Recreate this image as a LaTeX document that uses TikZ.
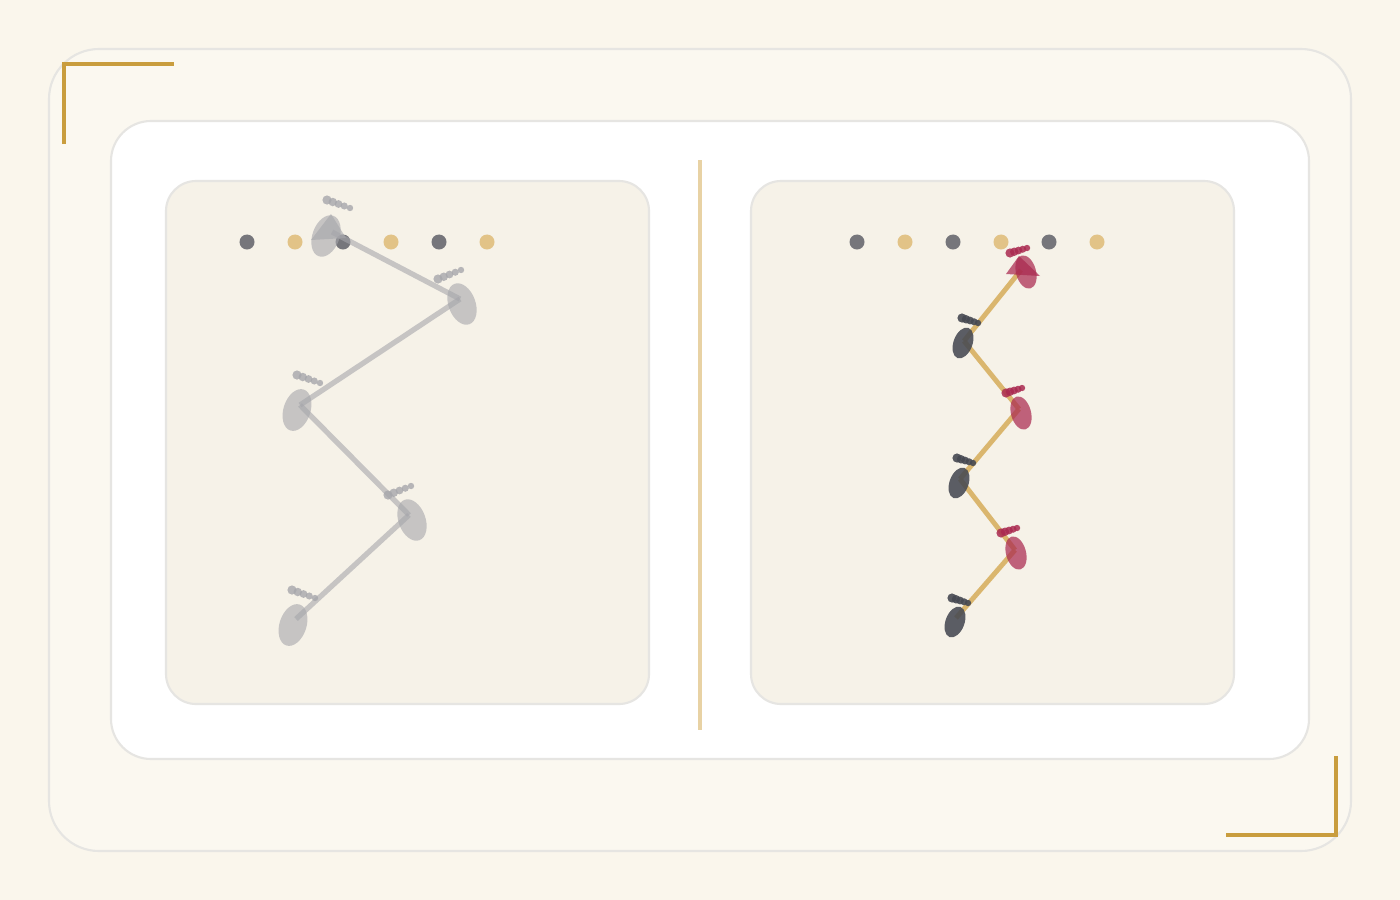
\documentclass[tikz,border=0pt]{standalone}
\usepackage{tikz}
\usetikzlibrary{shapes.geometric,calc}

\definecolor{pagebg}{HTML}{FAF6EC}
\definecolor{framebg}{HTML}{FBF8F0}
\definecolor{framerule}{HTML}{E6E5E2}
\definecolor{panelbg}{HTML}{F6F2E8}
\definecolor{gold}{HTML}{C99D3E}
\definecolor{divider}{HTML}{E8D2A4}
\definecolor{sand}{HTML}{E2C387}
\definecolor{slate}{HTML}{76767B}
\definecolor{ghost}{HTML}{A6A6AB}
\definecolor{wine}{HTML}{AA2A50}
\definecolor{ink}{HTML}{464952}
\definecolor{rope}{HTML}{D8B061}

% a row of five beads, shrinking from #1 towards #2
\newcommand{\beadrow}[3]{%
  \foreach \k in {0,...,4}
    \fill[#3] ($(#1)!\k/4!(#2)$) circle[radius={4.6-0.35*\k}];
}

\begin{document}
\begin{tikzpicture}[x=0.01cm,y=-0.01cm]
  \tikzstyle{token}=[circle,inner sep=0pt,minimum size=0.15cm]
  \tikzstyle{panel}=[fill=panelbg,draw=framerule,line width=0.6pt,rounded corners=0.3cm]
  \tikzstyle{pod}=[ellipse,inner sep=0pt,draw=none]
  \tikzstyle{ghostpod}=[pod,fill=ghost,fill opacity=0.6,minimum width=0.27cm,minimum height=0.43cm]
  \tikzstyle{winepod}=[pod,fill=wine,fill opacity=0.72,minimum width=0.2cm,minimum height=0.34cm]
  \tikzstyle{inkpod}=[pod,fill=ink,fill opacity=0.88,minimum width=0.19cm,minimum height=0.32cm]
  \tikzstyle{ghostlink}=[draw=ghost,draw opacity=0.6,line width=1.5pt]
  \tikzstyle{ropelink}=[draw=rope,draw opacity=0.9,line width=1.4pt]

  %--- page and frames ---
  \fill[pagebg] (0,0) rectangle (1400,900);
  \useasboundingbox (0,0) rectangle (1400,900);
  \draw[fill=framebg,draw=framerule,line width=0.6pt,rounded corners=0.5cm] (49,49) rectangle (1351,851);
  \draw[fill=white,draw=framerule,line width=0.6pt,rounded corners=0.4cm] (111,121) rectangle (1309,759);
  \draw[panel] (166,181) rectangle (649,704);
  \draw[panel] (751,181) rectangle (1234,704);
  \draw[divider,line width=1pt] (700,160) -- (700,730);

  %--- corner marks ---
  \draw[gold,line width=0.9pt] (64,144) -- (64,64) -- (174,64);
  \draw[gold,line width=0.9pt] (1336,756) -- (1336,835) -- (1226,835);

  %--- top rows of tokens ---
  \foreach \x/\c [count=\n] in {247/slate,295/sand,343/slate,391/sand,439/slate,487/sand}
    \node[token,fill=\c] (lt\n) at (\x,242) {};
  \foreach \x/\c [count=\n] in {857/slate,905/sand,953/slate,1001/sand,1049/slate,1097/sand}
    \node[token,fill=\c] (rt\n) at (\x,242) {};

  %--- left chain (faded) ---
  \coordinate (l1) at (332,232);
  \coordinate (l2) at (460,299);
  \coordinate (l3) at (300,405);
  \coordinate (l4) at (409,515);
  \coordinate (l5) at (296,619);
  \path[ghostlink] (l1) edge (l2) (l2) edge (l3) (l3) edge (l4) (l4) edge (l5);

  \fill[ghost,fill opacity=0.6] (311,240) -- (331,214) -- (346,238) -- cycle;
  \node[ghostpod,rotate=-20] (lp1) at (326,236) {};
  \node[ghostpod,rotate=20]  (lp2) at (462,304) {};
  \node[ghostpod,rotate=-18] (lp3) at (297,410) {};
  \node[ghostpod,rotate=20]  (lp4) at (412,520) {};
  \node[ghostpod,rotate=-18] (lp5) at (293,625) {};

  \beadrow{327,200}{350,208}{ghost,fill opacity=0.8}
  \beadrow{438,279}{461,270}{ghost,fill opacity=0.8}
  \beadrow{297,375}{320,383}{ghost,fill opacity=0.8}
  \beadrow{388,495}{411,486}{ghost,fill opacity=0.8}
  \beadrow{292,590}{315,598}{ghost,fill opacity=0.8}

  %--- right chain ---
  \coordinate (r1) at (1021,270);
  \coordinate (r2) at (964,341);
  \coordinate (r3) at (1019,409);
  \coordinate (r4) at (960,479);
  \coordinate (r5) at (1015,550);
  \coordinate (r6) at (956,618);
  \path[ropelink] (r1) edge (r2) (r2) edge (r3) (r3) edge (r4) (r4) edge (r5) (r5) edge (r6);

  \fill[wine,fill opacity=0.72] (1006,274) -- (1019,256) -- (1040,276) -- cycle;
  \node[winepod,rotate=15]  (rp1) at (1026,272) {};
  \node[inkpod,rotate=-20]  (rp2) at (963,343) {};
  \node[winepod,rotate=15]  (rp3) at (1021,413) {};
  \node[inkpod,rotate=-20]  (rp4) at (959,483) {};
  \node[winepod,rotate=15]  (rp5) at (1016,553) {};
  \node[inkpod,rotate=-20]  (rp6) at (955,622) {};

  \beadrow{1010,253}{1027,248}{wine,fill opacity=0.85}
  \beadrow{962,318}{978,323}{ink,fill opacity=0.9}
  \beadrow{1006,393}{1022,388}{wine,fill opacity=0.85}
  \beadrow{957,458}{973,463}{ink,fill opacity=0.9}
  \beadrow{1001,533}{1017,528}{wine,fill opacity=0.85}
  \beadrow{952,598}{968,603}{ink,fill opacity=0.9}
\end{tikzpicture}
\end{document}
